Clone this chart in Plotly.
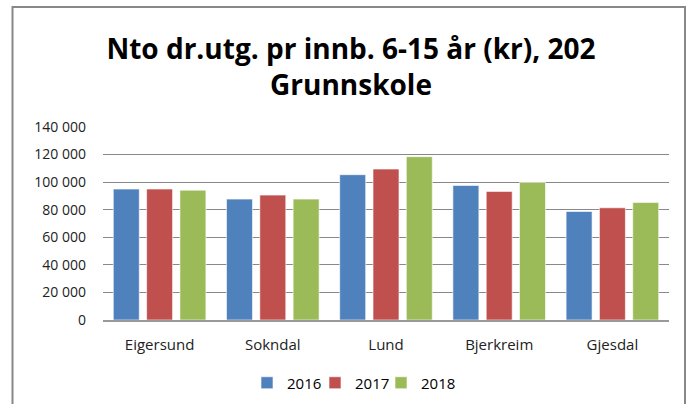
import plotly.graph_objects as go

categories = ["Eigersund", "Sokndal", "Lund", "Bjerkreim", "Gjesdal"]
years = ["2016", "2017", "2018"]
v2016 = [95000, 87700, 105400, 97600, 78700]
v2017 = [95000, 90600, 109500, 93300, 81400]
v2018 = [94200, 87700, 118500, 99800, 85300]
tick_vals = [0, 20000, 40000, 60000, 80000, 100000, 120000, 140000]
tick_text = ["0", "20 000", "40 000", "60 000", "80 000", "100 000", "120 000", "140 000"]
colors = ["#4F81BD", "#C0504D", "#9BBB59"]

L, R, T, B = 103, 22, 127, 84
W, H = 691, 404
pw, ph = W - L - R, H - T - B

def px(x):
    return (x - L) / pw

def py(y):
    return (H - B - y) / ph

legend_ids = ["legend", "legend2", "legend3"]
legend_x = [247, 315, 381]

fig = go.Figure()
for name, vals, c, lid in zip(years, [v2016, v2017, v2018], colors, legend_ids):
    fig.add_trace(go.Bar(x=categories, y=vals, name=name, legend=lid,
                         marker=dict(color=c, line=dict(color="rgba(255,255,255,0.6)", width=1))))

legend_layout = {}
for lid, lx in zip(legend_ids, legend_x):
    legend_layout[lid] = dict(orientation="h", x=px(lx), xanchor="left", y=py(383), yanchor="middle",
                              font=dict(size=15), itemwidth=30, bgcolor="rgba(0,0,0,0)")

fig.update_layout(
    width=W, height=H,
    margin=dict(l=L, r=R, t=T, b=B, autoexpand=False),
    paper_bgcolor="white", plot_bgcolor="white",
    barmode="group", bargap=0.117, bargroupgap=0.22,
    font=dict(family="Open Sans", color="#000000"),
    title=dict(text="<b>Nto dr.utg. pr innb. 6-15 år (kr), 202<br>Grunnskole</b>",
               x=351 / W, xanchor="center", y=1 - 59 / H, yanchor="middle",
               font=dict(size=28, family="Open Sans", color="#000000")),
    showlegend=True,
    yaxis=dict(range=[0, 140000], tickvals=tick_vals, ticktext=tick_text,
               showgrid=True, gridcolor="#888888", gridwidth=1, zeroline=False,
               showline=False, tickfont=dict(size=14, family="Open Sans", color="#222222"),
               ticks="", ticklabelstandoff=16),
    xaxis=dict(showline=True, linecolor="#999999", linewidth=2, ticks="",
               tickfont=dict(size=15, family="Open Sans", color="#222222"),
               ticklabelstandoff=10),
    **legend_layout,
)

fig.add_shape(type="rect", xref="paper", yref="paper",
              x0=px(12.5), x1=px(685), y0=py(420), y1=py(7),
              line=dict(color="#888888", width=2), fillcolor="rgba(0,0,0,0)", layer="below")

fig.write_html("out.html", config={"displayModeBar": False},
               post_script="document.body.style.margin='0';document.body.style.overflow='hidden';")
